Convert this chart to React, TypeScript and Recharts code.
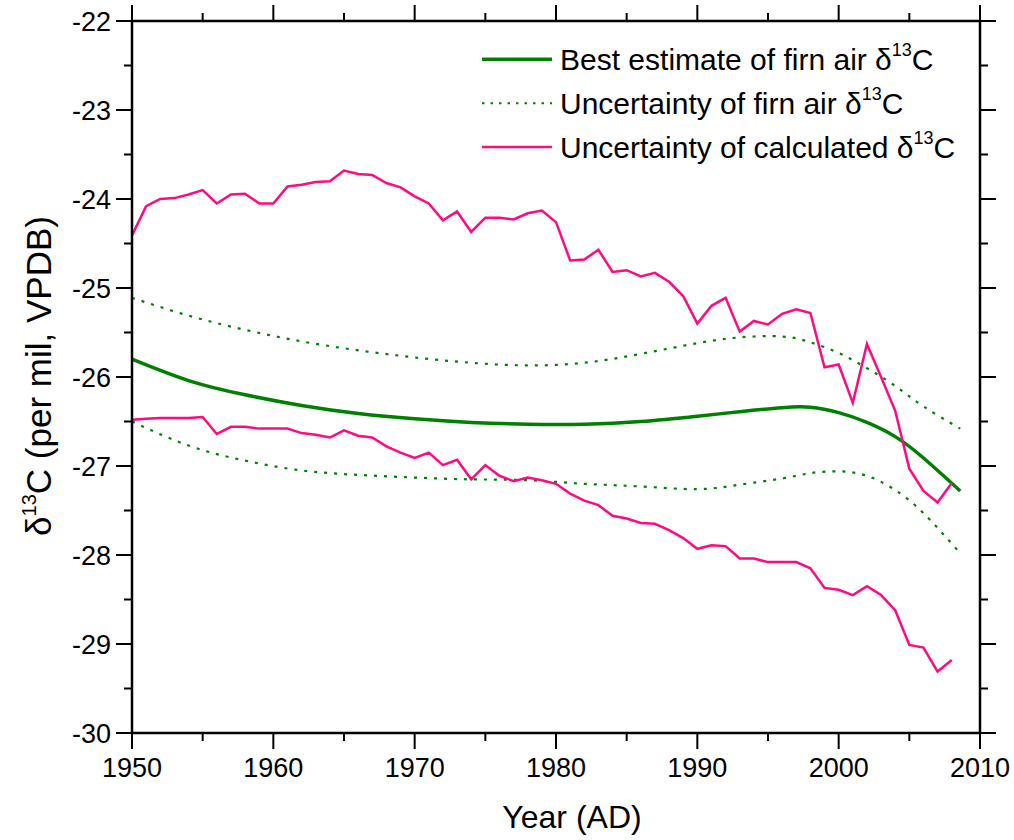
import React from 'react';
import { LineChart, Line, XAxis, YAxis, Legend, Label } from 'recharts';

const years = [
  1950, 1951, 1952, 1953, 1954, 1955, 1956, 1957, 1958, 1959,
  1960, 1961, 1962, 1963, 1964, 1965, 1966, 1967, 1968, 1969,
  1970, 1971, 1972, 1973, 1974, 1975, 1976, 1977, 1978, 1979,
  1980, 1981, 1982, 1983, 1984, 1985, 1986, 1987, 1988, 1989,
  1990, 1991, 1992, 1993, 1994, 1995, 1996, 1997, 1998, 1999,
  2000, 2001, 2002, 2003, 2004, 2005, 2006, 2007, 2008,
];

const calcUpper = [
  -24.41, -24.08, -24.0, -23.99, -23.95, -23.9, -24.05, -23.95, -23.94, -24.05,
  -24.05, -23.86, -23.84, -23.81, -23.8, -23.68, -23.72, -23.73, -23.82, -23.87,
  -23.97, -24.05, -24.24, -24.14, -24.37, -24.21, -24.21, -24.23, -24.16, -24.13,
  -24.26, -24.69, -24.68, -24.57, -24.82, -24.8, -24.87, -24.83, -24.93, -25.09,
  -25.4, -25.2, -25.11, -25.49, -25.37, -25.41, -25.29, -25.24, -25.28, -25.89,
  -25.86, -26.29, -25.63, -26.0, -26.38, -27.03, -27.28, -27.41, -27.19,
];

const calcLower = [
  -26.48, -26.47, -26.46, -26.46, -26.46, -26.45, -26.64, -26.56, -26.56, -26.58,
  -26.58, -26.58, -26.63, -26.65, -26.68, -26.6, -26.66, -26.68, -26.78, -26.85,
  -26.91, -26.85, -26.99, -26.93, -27.15, -26.99, -27.11, -27.17, -27.13, -27.16,
  -27.2, -27.31, -27.39, -27.44, -27.56, -27.59, -27.64, -27.65, -27.72, -27.81,
  -27.93, -27.89, -27.9, -28.04, -28.04, -28.08, -28.08, -28.08, -28.15, -28.37,
  -28.39, -28.45, -28.35, -28.45, -28.62, -29.01, -29.04, -29.31, -29.18,
];

const firnYears = [
  1950, 1954, 1958, 1962, 1966, 1970, 1974, 1978, 1982, 1986,
  1990, 1993, 1996, 1998, 2000, 2002, 2004, 2006, 2008.6,
];

const firnBest = [
  -25.8, -26.04, -26.2, -26.32, -26.41, -26.47, -26.51, -26.53, -26.53, -26.5,
  -26.44, -26.39, -26.345, -26.34, -26.4, -26.51, -26.67, -26.91, -27.28,
];

const firnUpper = [
  -25.11, -25.31, -25.47, -25.6, -25.7, -25.78, -25.84, -25.87, -25.84, -25.74,
  -25.62, -25.555, -25.545, -25.61, -25.73, -25.9, -26.1, -26.33, -26.58,
];

const firnLower = [
  -26.5, -26.77, -26.94, -27.05, -27.1, -27.13, -27.15, -27.16, -27.2, -27.23,
  -27.26, -27.21, -27.14, -27.08, -27.06, -27.11, -27.27, -27.53, -27.98,
];

const xTicks = [1950, 1955, 1960, 1965, 1970, 1975, 1980, 1985, 1990, 1995, 2000, 2005, 2010];
const yTicks = [-30, -29.5, -29, -28.5, -28, -27.5, -27, -26.5, -26, -25.5, -25, -24.5, -24, -23.5, -23, -22.5, -22];

const GREEN = '#008000';
const PINK = '#FF0A80';
const FONT = '"Liberation Sans", Arial, Helvetica, sans-serif';

type Row = {
  year: number;
  calcUpper?: number | null;
  calcLower?: number | null;
  best?: number | null;
  fUp?: number | null;
  fLo?: number | null;
};

const rowMap = new Map<number, Row>();
years.forEach((y, i) => {
  rowMap.set(y, { year: y, calcUpper: calcUpper[i], calcLower: calcLower[i], best: null, fUp: null, fLo: null });
});
firnYears.forEach((y, i) => {
  const r = rowMap.get(y) || { year: y, calcUpper: null, calcLower: null };
  r.best = firnBest[i];
  r.fUp = firnUpper[i];
  r.fLo = firnLower[i];
  rowMap.set(y, r);
});
const data: Row[] = Array.from(rowMap.values()).sort((a, b) => a.year - b.year);

const MAJOR = 16;
const MINOR = 8;

const BottomTick = (props: any) => {
  const { x, y, payload } = props;
  const major = payload.value % 10 === 0;
  return (
    <g>
      <line x1={x} x2={x} y1={y} y2={y + (major ? MAJOR : MINOR)} stroke="#000" strokeWidth={2} />
      {major && (
        <text x={x} y={y + 44} textAnchor="middle" fontFamily={FONT} fontSize={27} fill="#000">
          {payload.value}
        </text>
      )}
    </g>
  );
};

const TopTick = (props: any) => {
  const { x, y, payload } = props;
  const major = payload.value % 10 === 0;
  return <line x1={x} x2={x} y1={y} y2={y - (major ? MAJOR : MINOR)} stroke="#000" strokeWidth={2} />;
};

const LeftTick = (props: any) => {
  const { x, y, payload } = props;
  const major = Number.isInteger(payload.value);
  return (
    <g>
      <line x1={x} x2={x - (major ? MAJOR : MINOR)} y1={y} y2={y} stroke="#000" strokeWidth={2} />
      {major && (
        <text x={x - 21} y={y + 9.5} textAnchor="end" fontFamily={FONT} fontSize={27} fill="#000">
          {payload.value}
        </text>
      )}
    </g>
  );
};

const RightTick = (props: any) => {
  const { x, y, payload } = props;
  const major = Number.isInteger(payload.value);
  return <line x1={x} x2={x + (major ? MAJOR : MINOR)} y1={y} y2={y} stroke="#000" strokeWidth={2} />;
};

const XTitle = () => (
  <text x={572} y={828} textAnchor="middle" fontFamily={FONT} fontSize={32} fill="#000">
    Year (AD)
  </text>
);

const YTitle = () => (
  <text
    x={51}
    y={376}
    transform="rotate(-90, 51, 376)"
    textAnchor="middle"
    fontFamily={FONT}
    fontSize={35}
    fill="#000"
  >
    δ
    <tspan dy={-15} fontSize={20}>13</tspan>
    <tspan dy={15}>C (per mil, VPDB)</tspan>
  </text>
);

const legendItems = [
  { label: 'Best estimate of firn air δ', color: GREEN, width: 3.5, dash: undefined as string | undefined },
  { label: 'Uncertainty of firn air δ', color: GREEN, width: 2, dash: '2.5 6' },
  { label: 'Uncertainty of calculated δ', color: PINK, width: 2.5, dash: undefined as string | undefined },
];

const LegendContent = () => (
  <svg width={540} height={150} style={{ display: 'block' }}>
    {legendItems.map((it, i) => {
      const cy = 39.3 + i * 43.9;
      return (
        <g key={i}>
          <line x1={12} x2={82} y1={cy} y2={cy} stroke={it.color} strokeWidth={it.width} strokeDasharray={it.dash} />
          <text x={90} y={cy + 10.7} fontFamily={FONT} fontSize={30} fill="#000">
            {it.label}
            <tspan dy={-14} fontSize={18}>13</tspan>
            <tspan dy={14}>C</tspan>
          </text>
        </g>
      );
    })}
  </svg>
);

export default function App() {
  return (
    <div style={{ position: 'absolute', left: 0, top: 0, background: '#fff' }}>
      <LineChart
        width={1014}
        height={840}
        data={data}
        margin={{ top: 20, right: 33, bottom: 0, left: 0 }}
      >
        <XAxis
          dataKey="year"
          type="number"
          domain={[1950, 2010]}
          ticks={xTicks}
          interval={0}
          allowDataOverflow
          height={107}
          tickSize={0}
          tickMargin={0}
          tickLine={false}
          axisLine={{ stroke: '#000', strokeWidth: 2.5 }}
          tick={<BottomTick />}
        >
          <Label content={<XTitle />} />
        </XAxis>
        <XAxis
          xAxisId="top"
          orientation="top"
          dataKey="year"
          type="number"
          domain={[1950, 2010]}
          ticks={xTicks}
          interval={0}
          allowDataOverflow
          height={1}
          tickSize={0}
          tickMargin={0}
          tickLine={false}
          axisLine={{ stroke: '#000', strokeWidth: 2.5 }}
          tick={<TopTick />}
        />
        <YAxis
          type="number"
          domain={[-30, -22]}
          ticks={yTicks}
          interval={0}
          allowDataOverflow
          width={132}
          tickSize={0}
          tickMargin={0}
          tickLine={false}
          axisLine={{ stroke: '#000', strokeWidth: 2.5 }}
          tick={<LeftTick />}
        >
          <Label content={<YTitle />} />
        </YAxis>
        <YAxis
          yAxisId="right"
          orientation="right"
          type="number"
          domain={[-30, -22]}
          ticks={yTicks}
          interval={0}
          allowDataOverflow
          width={1}
          tickSize={0}
          tickMargin={0}
          tickLine={false}
          axisLine={{ stroke: '#000', strokeWidth: 2.5 }}
          tick={<RightTick />}
        />
        <Legend
          verticalAlign="middle"
          align="center"
          layout="vertical"
          wrapperStyle={{ position: 'absolute', left: 470, top: 20, width: 540 }}
          content={<LegendContent />}
        />
        <Line
          dataKey="fUp"
          name="Uncertainty of firn air δ13C (upper)"
          type="natural"
          stroke={GREEN}
          strokeWidth={2.2}
          strokeDasharray="3 7"
          dot={false}
          connectNulls
          isAnimationActive={false}
        />
        <Line
          dataKey="fLo"
          name="Uncertainty of firn air δ13C (lower)"
          type="natural"
          stroke={GREEN}
          strokeWidth={2.2}
          strokeDasharray="3 7"
          dot={false}
          connectNulls
          isAnimationActive={false}
        />
        <Line
          dataKey="best"
          name="Best estimate of firn air δ13C"
          type="natural"
          stroke={GREEN}
          strokeWidth={3.5}
          dot={false}
          connectNulls
          isAnimationActive={false}
        />
        <Line
          dataKey="calcUpper"
          name="Uncertainty of calculated δ13C (upper)"
          type="linear"
          stroke={PINK}
          strokeWidth={2.5}
          dot={false}
          isAnimationActive={false}
        />
        <Line
          dataKey="calcLower"
          name="Uncertainty of calculated δ13C (lower)"
          type="linear"
          stroke={PINK}
          strokeWidth={2.5}
          dot={false}
          isAnimationActive={false}
        />
      </LineChart>
    </div>
  );
}
